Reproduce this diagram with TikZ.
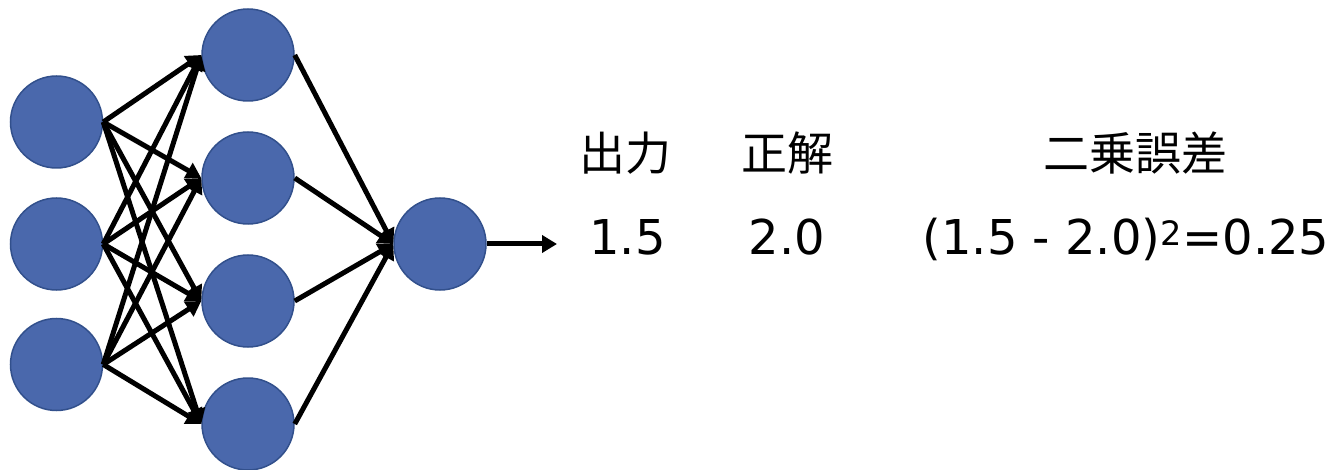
\documentclass[tikz,border=0pt]{standalone}
\usepackage{fontspec}
\setmainfont{DejaVu Sans}
\newfontfamily\cjk{Noto Sans CJK JP}
\usetikzlibrary{arrows.meta}
\definecolor{nodefill}{RGB}{74,104,172}
\definecolor{nodeline}{RGB}{50,80,140}
\tikzset{
  neuron/.style={circle,fill=nodefill,draw=nodeline,line width=1.5pt,minimum size=92pt,inner sep=0pt},
  conn/.style={line width=5pt,-{Triangle[length=15pt,width=17pt]}},
  lbl/.style={anchor=base,inner sep=0pt,font=\fontsize{48}{54}\selectfont},
  cjklbl/.style={anchor=base,inner sep=0pt,font=\fontsize{46}{52}\selectfont\cjk}
}
\begin{document}
\begin{tikzpicture}[x=1pt,y=-1pt]
\useasboundingbox (0,0) rectangle (1338,470);
\node[neuron] (i1) at (56.5,122) {};
\node[neuron] (i2) at (56.5,244) {};
\node[neuron] (i3) at (56.5,364.5) {};
\node[neuron] (h1) at (248,55) {};
\node[neuron] (h2) at (248,178) {};
\node[neuron] (h3) at (248,301) {};
\node[neuron] (h4) at (248,424) {};
\node[neuron] (o) at (440,244) {};
\coordinate (end) at (557,244);
\foreach \i in {1,2,3}{
  \foreach \h in {1,2,3,4}{
    \draw[conn] (i\i.east) -- (h\h.west);
  }
}
\foreach \h in {1,2,3,4}{
  \draw[conn] (h\h.east) -- (o.west);
}
\draw[conn] (o.east) -- (end);
\node[cjklbl] (t1) at (625,171) {出力};
\node[cjklbl] (t2) at (787.5,171) {正解};
\node[cjklbl] (t3) at (1135,171) {二乗誤差};
\node[lbl] (v1) at (627.5,255) {1.5};
\node[lbl] (v2) at (787,255) {2.0};
\node[lbl] (v3) at (1126,255) {(1.5 - 2.0)\textsuperscript{2}=0.25};
\end{tikzpicture}
\end{document}
